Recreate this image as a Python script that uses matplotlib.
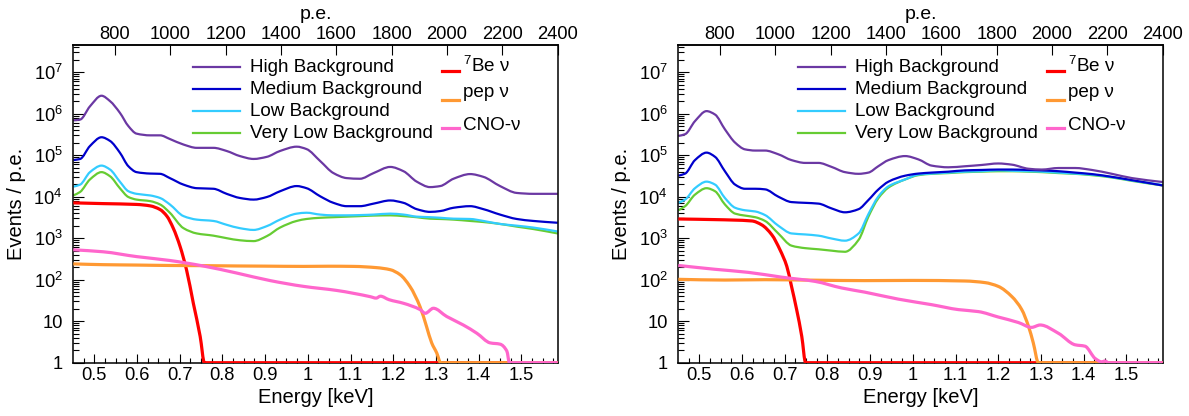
import numpy as np
import matplotlib
matplotlib.use("Agg")
import matplotlib.pyplot as plt
from matplotlib.path import Path
from matplotlib.patches import PathPatch
from matplotlib.ticker import (FixedLocator, LogLocator, FuncFormatter,
                               MultipleLocator, NullLocator, NullFormatter)

plt.rcParams.update({
    "font.family": ["Liberation Sans", "DejaVu Sans"],
    "mathtext.fontset": "custom",
    "mathtext.rm": "Liberation Sans",
    "mathtext.it": "Liberation Sans:italic",
    "mathtext.bf": "Liberation Sans:bold",
    "mathtext.sf": "Liberation Sans",
})

# ---------------------------------------------------------------- data
# Left panel: background spectra (events / p.e.) on a common energy grid [keV]
energy_a = [0.451, 0.467, 0.490, 0.517, 0.537, 0.560, 0.580, 0.599, 0.631, 0.654,
            0.677, 0.709, 0.740, 0.779, 0.810, 0.841, 0.873, 0.904, 0.935, 0.974,
            0.997, 1.029, 1.060, 1.091, 1.122, 1.154, 1.193, 1.224, 1.255, 1.286,
            1.310, 1.341, 1.380, 1.411, 1.450, 1.489, 1.528, 1.585]
high_a = [6.9e5, 7.2e5, 1.5e6, 2.7e6, 2.0e6, 1.05e6, 5.0e5, 3.3e5, 3.0e5, 3.0e5,
          2.45e5, 1.8e5, 1.5e5, 1.5e5, 1.26e5, 9.5e4, 8.1e4, 9.1e4, 1.26e5, 1.6e5,
          1.4e5, 7.2e4, 3.7e4, 2.8e4, 2.7e4, 3.7e4, 5.2e4, 4.1e4, 2.3e4, 1.7e4,
          1.8e4, 2.7e4, 3.5e4, 3.0e4, 1.8e4, 1.23e4, 1.17e4, 1.17e4]
medium_a = [7.6e4, 8.1e4, 1.66e5, 2.7e5, 2.2e5, 1.15e5, 5.4e4, 3.9e4, 3.6e4, 3.55e4,
            2.8e4, 1.95e4, 1.6e4, 1.55e4, 1.17e4, 9.3e3, 8.5e3, 9.8e3, 1.35e4, 1.8e4,
            1.6e4, 1.02e4, 7.1e3, 5.9e3, 5.9e3, 6.8e3, 8.1e3, 7.1e3, 5.0e3, 4.3e3,
            4.5e3, 5.4e3, 5.9e3, 5.0e3, 3.7e3, 2.9e3, 2.6e3, 2.35e3]
low_a = [1.74e4, 1.95e4, 3.9e4, 5.6e4, 4.5e4, 2.3e4, 1.35e4, 1.17e4, 1.07e4, 9.3e3,
         6.5e3, 3.4e3, 2.8e3, 2.6e3, 2.1e3, 1.74e3, 1.58e3, 1.95e3, 2.8e3, 3.9e3,
         4.1e3, 3.7e3, 3.55e3, 3.55e3, 3.6e3, 3.7e3, 3.9e3, 3.7e3, 3.3e3, 3.2e3,
         3.1e3, 2.95e3, 2.9e3, 2.6e3, 2.2e3, 2.0e3, 1.8e3, 1.45e3]
verylow_a = [1.07e4, 1.3e4, 2.6e4, 3.9e4, 3.1e4, 1.6e4, 9.8e3, 8.5e3, 7.8e3, 6.5e3,
             4.1e3, 1.74e3, 1.3e3, 1.15e3, 1.0e3, 890, 850, 1.12e3, 1.8e3, 2.6e3,
             2.9e3, 3.1e3, 3.2e3, 3.3e3, 3.4e3, 3.5e3, 3.55e3, 3.4e3, 3.2e3, 2.95e3,
             2.9e3, 2.8e3, 2.6e3, 2.45e3, 2.2e3, 1.9e3, 1.66e3, 1.3e3]

# Left panel: neutrino signals
be7_e_a = [0.451, 0.521, 0.599, 0.631, 0.654, 0.670, 0.685, 0.701, 0.716, 0.732, 0.748, 0.758, 1.585]
be7_v_a = [7.1e3, 6.8e3, 6.5e3, 6.0e3, 4.9e3, 3.4e3, 1.74e3, 630, 174, 27, 4.3, 1, 1]
pep_e_a = [0.451, 0.521, 0.600, 0.677, 0.750, 0.833, 0.900, 0.990, 1.050, 1.107, 1.161,
           1.193, 1.216, 1.239, 1.263, 1.278, 1.290, 1.302, 1.311, 1.585]
pep_v_a = [240, 230, 225, 220, 218, 214, 212, 209, 211, 209, 195,
           174, 132, 69, 22, 7.4, 3.0, 1.7, 1, 1]
cno_e_a = [0.451, 0.521, 0.599, 0.677, 0.755, 0.833, 0.912, 0.990, 1.068, 1.146, 1.160,
           1.170, 1.190, 1.224, 1.263, 1.275, 1.294, 1.325, 1.364, 1.396, 1.427, 1.450,
           1.466, 1.472, 1.585]
cno_v_a = [525, 470, 360, 290, 214, 145, 95, 69, 55, 39, 36,
           40, 33, 27, 19, 15.5, 20.5, 13, 8.1, 5.1, 3.0, 2.8,
           1.9, 1, 1]

# Right panel: background spectra on a common energy grid [keV]
energy_b = [0.451, 0.467, 0.490, 0.517, 0.537, 0.560, 0.584, 0.607, 0.631, 0.654,
            0.685, 0.716, 0.748, 0.779, 0.810, 0.841, 0.873, 0.896, 0.919, 0.943,
            0.982, 1.013, 1.044, 1.083, 1.122, 1.161, 1.200, 1.232, 1.271, 1.302,
            1.341, 1.380, 1.419, 1.466, 1.513, 1.585]
high_b = [2.9e5, 3.2e5, 6.6e5, 1.15e6, 9.5e5, 4.2e5, 2.0e5, 1.38e5, 1.29e5, 1.29e5,
          1.05e5, 7.6e4, 6.5e4, 6.5e4, 5.2e4, 3.9e4, 3.55e4, 3.8e4, 5.4e4, 7.6e4,
          9.5e4, 7.9e4, 5.6e4, 5.1e4, 5.4e4, 5.8e4, 6.3e4, 5.9e4, 4.7e4, 4.5e4,
          4.9e4, 4.9e4, 4.4e4, 3.55e4, 2.8e4, 2.25e4]
medium_b = [3.2e4, 3.6e4, 7.6e4, 1.15e5, 9.1e4, 4.1e4, 1.95e4, 1.55e4, 1.55e4, 1.5e4,
            1.0e4, 7.4e3, 7.1e3, 6.8e3, 5.2e3, 4.2e3, 5.0e3, 8.3e3, 1.48e4, 2.3e4,
            3.2e4, 3.6e4, 3.8e4, 4.0e4, 4.3e4, 4.4e4, 4.5e4, 4.5e4, 4.4e4, 4.3e4,
            4.1e4, 3.8e4, 3.5e4, 3.0e4, 2.5e4, 1.86e4]
low_b = [7.1e3, 8.5e3, 1.6e4, 2.3e4, 1.95e4, 9.3e3, 5.4e3, 4.7e3, 4.4e3, 3.6e3,
         2.0e3, 1.3e3, 1.23e3, 1.15e3, 980, 870, 1.3e3, 3.8e3, 1.0e4, 1.78e4,
         2.6e4, 3.4e4, 3.6e4, 3.8e4, 4.0e4, 4.1e4, 4.3e4, 4.2e4, 4.1e4, 4.0e4,
         3.8e4, 3.6e4, 3.4e4, 2.95e4, 2.45e4, 1.9e4]
verylow_b = [4.7e3, 5.9e3, 1.12e4, 1.6e4, 1.35e4, 6.5e3, 3.9e3, 3.5e3, 3.2e3, 2.6e3,
             1.3e3, 660, 575, 540, 500, 470, 910, 3.3e3, 9.1e3, 1.66e4,
             2.6e4, 3.3e4, 3.55e4, 3.7e4, 3.9e4, 4.0e4, 4.1e4, 4.1e4, 4.0e4, 3.9e4,
             3.7e4, 3.55e4, 3.3e4, 2.9e4, 2.4e4, 1.86e4]

# Right panel: neutrino signals
be7_e_b = [0.451, 0.537, 0.623, 0.646, 0.670, 0.689, 0.705, 0.716, 0.728, 0.740, 0.749, 1.585]
be7_v_b = [2.9e3, 2.8e3, 2.6e3, 2.1e3, 1.2e3, 525, 209, 69, 19, 4.3, 1, 1]
pep_e_b = [0.451, 0.560, 0.654, 0.779, 0.888, 1.000, 1.122, 1.169, 1.200, 1.232,
           1.255, 1.271, 1.282, 1.294, 1.585]
pep_v_b = [102, 98, 100, 97, 95, 96, 93, 85, 69, 39,
           19, 7.4, 3.0, 1, 1]
cno_e_b = [0.451, 0.537, 0.615, 0.693, 0.771, 0.834, 0.888, 0.966, 1.044, 1.107,
           1.154, 1.200, 1.247, 1.278, 1.298, 1.341, 1.380, 1.403, 1.427, 1.442,
           1.450, 1.458, 1.585]
cno_v_b = [220, 178, 150, 115, 91, 63, 50, 34, 25, 19,
           17, 12.6, 9.3, 7.1, 8.1, 5.1, 2.7, 2.5, 1.26, 1.05,
           1.1, 1, 1]

bkg_labels = ["High Background", "Medium Background", "Low Background",
              "Very Low Background"]
nu_labels = [r"$^{7}$Be ν", "pep ν", "CNO-ν"]
pe_ticks = [800, 1000, 1200, 1400, 1600, 1800, 2000, 2200, 2400]

# ---------------------------------------------------------------- style
BKG_COLORS = ["#6b38a3", "#0000cc", "#33ccff", "#66cc33"]
NU_COLORS = ["#ff0000", "#ff9933", "#ff66cc"]
E_RANGE = (0.451, 1.585)
PE_RANGE = (650.0, 2400.0)
SCALE = (PE_RANGE[1] - PE_RANGE[0]) / (E_RANGE[1] - E_RANGE[0])


def e_to_pe(e):
    return PE_RANGE[0] + (np.asarray(e, dtype=float) - E_RANGE[0]) * SCALE


def pe_to_e(pe):
    return E_RANGE[0] + (np.asarray(pe, dtype=float) - PE_RANGE[0]) / SCALE


def log_label(v, pos):
    if v <= 0:
        return ""
    n = int(round(np.log10(v)))
    if n == 0:
        return "1"
    if n == 1:
        return "10"
    return r"$10^{%d}$" % n


def spectrum_path(x, y):
    """Smooth Bezier path through the points (monotone cubic in log-y)."""
    x = np.asarray(x, float)
    ly = np.log10(np.asarray(y, float))
    h = np.diff(x)
    d = np.diff(ly) / h
    m = np.empty_like(x)
    m[0], m[-1] = d[0], d[-1]
    for i in range(1, len(x) - 1):
        if d[i - 1] * d[i] <= 0:
            m[i] = 0.0
        else:
            w1 = 2 * h[i] + h[i - 1]
            w2 = h[i] + 2 * h[i - 1]
            m[i] = (w1 + w2) / (w1 / d[i - 1] + w2 / d[i])
    verts = [(x[0], 10 ** ly[0])]
    codes = [Path.MOVETO]
    for i in range(len(x) - 1):
        c1 = (x[i] + h[i] / 3, 10 ** (ly[i] + m[i] * h[i] / 3))
        c2 = (x[i + 1] - h[i] / 3, 10 ** (ly[i + 1] - m[i + 1] * h[i] / 3))
        verts += [c1, c2, (x[i + 1], 10 ** ly[i + 1])]
        codes += [Path.CURVE4] * 3
    return Path(verts, codes)


def draw_spectrum(ax, x, y, color, lw, z):
    ax.add_patch(PathPatch(spectrum_path(x, y), fill=False, edgecolor=color,
                           lw=lw, joinstyle="round", capstyle="butt", zorder=z))


def draw_panel(ax, energy, bkgs, nus):
    ax.set_yscale("log")
    ax.set_xlim(*E_RANGE)
    ax.set_ylim(1, 4.5e7)

    # backgrounds, drawn lowest first so the higher ones sit on top
    for vals, col in reversed(list(zip(bkgs, BKG_COLORS))):
        draw_spectrum(ax, energy, vals, col, 1.6, 2)
    # neutrino spectra sit above the frame so the empty bins show along y = 1
    for (e, v), col in zip(nus, NU_COLORS):
        draw_spectrum(ax, e, v, col, 2.3, 2.6)

    ax.xaxis.set_major_locator(MultipleLocator(0.1))
    ax.xaxis.set_minor_locator(MultipleLocator(0.025))
    ax.xaxis.set_major_formatter(FuncFormatter(lambda v, p: f"{round(v, 2):g}"))
    ax.yaxis.set_major_locator(LogLocator(base=10, numticks=20))
    ax.yaxis.set_minor_locator(LogLocator(base=10, subs=np.arange(2, 10), numticks=20))
    ax.yaxis.set_major_formatter(FuncFormatter(log_label))
    ax.yaxis.set_minor_formatter(NullFormatter())

    ax.tick_params(axis="x", which="both", direction="in", top=False, bottom=True,
                   labelsize=13.2, pad=3, width=0.8)
    ax.tick_params(axis="x", which="major", length=6.5)
    ax.tick_params(axis="x", which="minor", length=3.3)
    ax.tick_params(axis="y", which="both", direction="in", left=True, right=False,
                   labelsize=13.2, pad=7.5, width=0.8)
    ax.tick_params(axis="y", which="major", length=8)
    ax.tick_params(axis="y", which="minor", length=4.3)
    for s in ax.spines.values():
        s.set_linewidth(1.1)

    ax.set_xlabel("Energy [keV]", fontsize=14.5, va="center")
    ax.xaxis.set_label_coords(0.5, -0.108)
    ax.set_ylabel("Events / p.e.", fontsize=14.5, va="center")
    ax.yaxis.set_label_coords(-0.117, 0.5)

    sec = ax.secondary_xaxis("top", functions=(e_to_pe, pe_to_e))
    sec.xaxis.set_major_locator(FixedLocator(pe_ticks))
    sec.xaxis.set_minor_locator(NullLocator())
    sec.tick_params(axis="x", which="major", direction="in", length=7.2, width=0.8,
                    labelsize=13.2, pad=1.5)
    sec.spines["top"].set_linewidth(1.1)
    sec.set_xlabel("p.e.", fontsize=14, labelpad=5)

    # background legend
    tr = ax.transAxes
    for i, (lab, col) in enumerate(zip(bkg_labels, BKG_COLORS)):
        yb = 0.914 - i * 0.0685
        ax.plot([0.247, 0.344], [yb + 0.016] * 2, color=col, lw=1.6,
                transform=tr, clip_on=False)
        ax.text(0.365, yb, lab, transform=tr, fontsize=13.6, va="baseline", ha="left")
    # neutrino legend
    text_y = [0.914, 0.837, 0.733]
    line_y = [0.918, 0.827, 0.738]
    for lab, col, ty, ly in zip(nu_labels, NU_COLORS, text_y, line_y):
        ax.plot([0.7605, 0.796], [ly] * 2, color=col, lw=2.3, transform=tr,
                clip_on=False)
        ax.text(0.8045, ty, lab, transform=tr, fontsize=13.6, va="baseline",
                ha="left")


fig = plt.figure(figsize=(11.89, 4.16), dpi=100)
ax_a = fig.add_axes([0.06165, 0.1281, 0.4074, 0.7637])
ax_b = fig.add_axes([0.5705, 0.1281, 0.4074, 0.7637])

draw_panel(ax_a, energy_a, [high_a, medium_a, low_a, verylow_a],
           [(be7_e_a, be7_v_a), (pep_e_a, pep_v_a), (cno_e_a, cno_v_a)])
draw_panel(ax_b, energy_b, [high_b, medium_b, low_b, verylow_b],
           [(be7_e_b, be7_v_b), (pep_e_b, pep_v_b), (cno_e_b, cno_v_b)])

fig.savefig("out.png", dpi=100, facecolor="white")
